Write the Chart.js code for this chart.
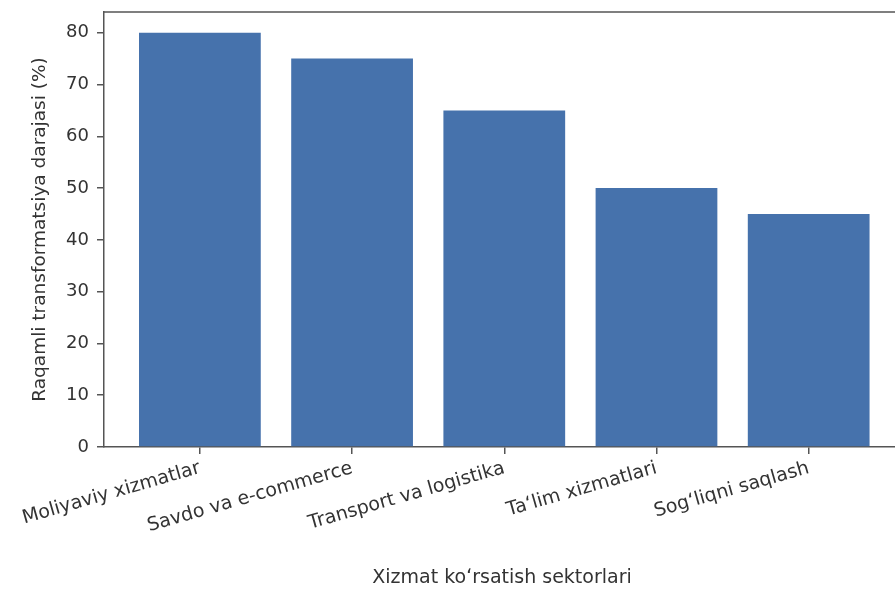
<!DOCTYPE html>
<html>
<head>
<meta charset="utf-8">
<script src="https://cdn.jsdelivr.net/npm/chart.js@4"></script>
<style>
  html, body { margin: 0; padding: 0; background: #fff; overflow: hidden; }
  #wrap { width: 900px; height: 592px; }
</style>
</head>
<body>
<div id="wrap"><canvas id="chart"></canvas></div>
<script>
const sectors = ['Moliyaviy xizmatlar', 'Savdo va e-commerce', 'Transport va logistika', 'Taʻlim xizmatlari', 'Sogʻliqni saqlash'];
const values = [80, 75, 65, 50, 45];
const yTicks = [0, 10, 20, 30, 40, 50, 60, 70, 80];

const axisColor = '#555';
const textColor = '#333';
const font = { family: 'DejaVu Sans', size: 18 };
const xFont = { family: 'DejaVu Sans', size: 19 };

// top/right spines, matplotlib style box
const frame = {
    id: 'frame',
    afterDraw(chart) {
        const a = chart.chartArea, ctx = chart.ctx;
        ctx.save();
        ctx.strokeStyle = axisColor;
        ctx.lineWidth = 1.5;
        ctx.beginPath();
        ctx.moveTo(a.left, a.top);
        ctx.lineTo(a.right, a.top);
        ctx.lineTo(a.right, a.bottom);
        ctx.stroke();
        ctx.restore();
    }
};

new Chart(document.getElementById('chart'), {
    type: 'bar',
    data: {
        datasets: [{
            data: values.map((v, i) => ({ x: i, y: v })),
            backgroundColor: '#4672ac',
            barPercentage: 0.8,
            categoryPercentage: 1.0
        }]
    },
    options: {
        responsive: true,
        maintainAspectRatio: false,
        animation: false,
        layout: { padding: { top: 12, right: 0, left: 0, bottom: 0 } },
        plugins: { legend: { display: false }, tooltip: { enabled: false } },
        scales: {
            x: {
                type: 'linear',
                offset: false,
                min: -0.63,
                max: 4.6,
                afterBuildTicks: scale => { scale.ticks = sectors.map((_, i) => ({ value: i })); },
                afterFit: scale => {
                    scale.height = 145;
                    scale.paddingLeft = 0;
                    scale.paddingRight = 0;
                },
                ticks: {
                    callback: v => sectors[v],
                    minRotation: 16,
                    maxRotation: 16,
                    autoSkip: false,
                    color: textColor,
                    font: xFont,
                    padding: 3
                },
                grid: { offset: false, drawOnChartArea: false, drawTicks: true, tickLength: 7, color: axisColor, lineWidth: 1.5 },
                border: { color: axisColor, width: 1.5 },
                title: {
                    display: true,
                    text: 'Xizmat koʻrsatish sektorlari',
                    color: textColor,
                    font: xFont,
                    padding: { top: 0, bottom: 3 }
                }
            },
            y: {
                min: 0,
                max: 84,
                afterBuildTicks: scale => { scale.ticks = yTicks.map(v => ({ value: v })); },
                afterFit: scale => {
                    scale.width = 104;
                    scale.paddingTop = 0;
                    scale.paddingBottom = 0;
                },
                ticks: { color: textColor, font: font, padding: 8 },
                grid: { drawOnChartArea: false, drawTicks: true, tickLength: 7, color: axisColor, lineWidth: 1.5 },
                border: { color: axisColor, width: 1.5 },
                title: {
                    display: true,
                    text: 'Raqamli transformatsiya darajasi (%)',
                    color: textColor,
                    font: { family: 'DejaVu Sans', size: 18.5 },
                    padding: { top: 29, bottom: 0 }
                }
            }
        }
    },
    plugins: [frame]
});
</script>
</body>
</html>
